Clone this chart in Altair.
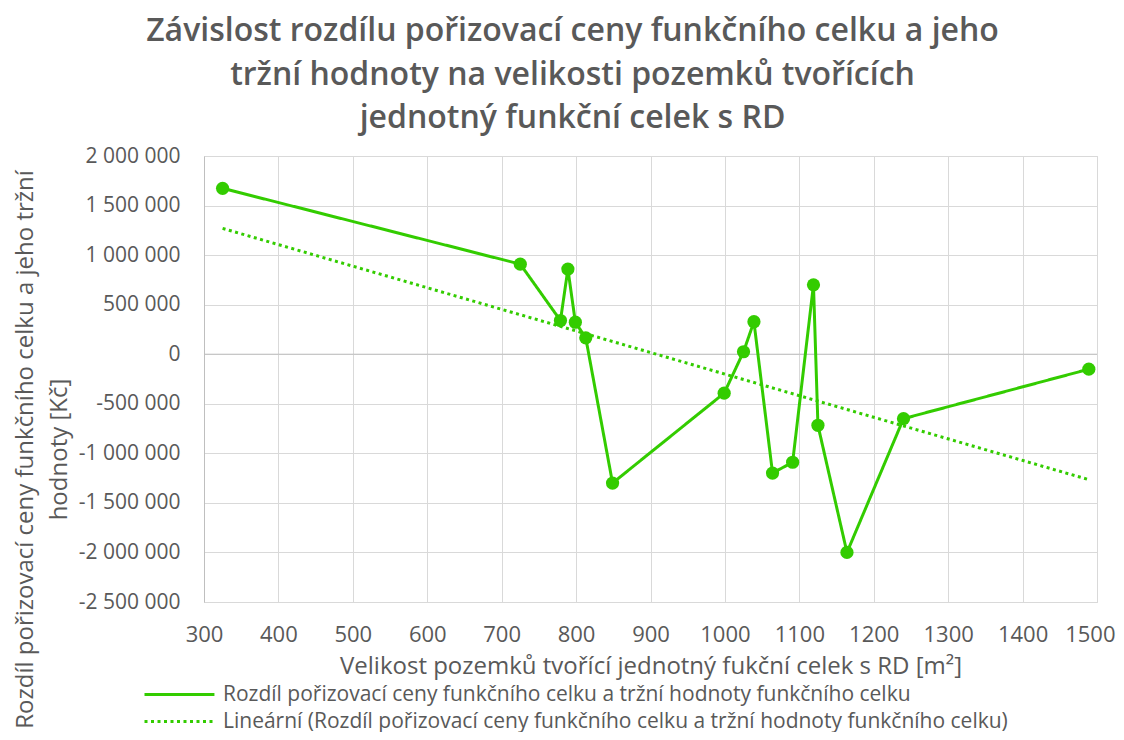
import altair as alt
import pandas as pd

# ---- data ----
area_m2 = [325, 725, 779, 789, 799, 813, 849, 999, 1025, 1039, 1064, 1091, 1119, 1125, 1164, 1240, 1489]
diff_czk = [1674000, 909000, 340000, 859000, 323000, 165000, -1300000, -393000, 25000, 328000,
            -1199000, -1090000, 700000, -717000, -2000000, -650000, -151000]

x_ticks = [300, 400, 500, 600, 700, 800, 900, 1000, 1100, 1200, 1300, 1400, 1500]
y_ticks = [2000000, 1500000, 1000000, 500000, 0, -500000, -1000000, -1500000, -2000000, -2500000]

series_data = "Rozdíl pořizovací ceny funkčního celku a tržní hodnoty funkčního celku"
series_trend = "Lineární (Rozdíl pořizovací ceny funkčního celku a tržní hodnoty funkčního celku)"

title_lines = ["Závislost rozdílu pořizovací ceny funkčního celku a jeho",
               "tržní hodnoty na velikosti pozemků tvořících",
               "jednotný funkční celek s RD"]
x_title = "Velikost pozemků tvořící jednotný fukční celek s RD [m²]"
y_title = ["Rozdíl pořizovací ceny funkčního celku a jeho tržní", "hodnoty [Kč]"]

GREEN = "#33cc00"
TEXT = "#595959"
FONT = "Open Sans"

df = pd.DataFrame({"x": area_m2, "y": diff_czk})

last_x = x_ticks[-1]
x_enc = alt.X("x:Q",
              scale=alt.Scale(domain=[300, 1500], nice=False, zero=False),
              axis=alt.Axis(values=x_ticks, title=x_title, format="d", grid=True, ticks=False, domain=False,
                            labelFontSize=22, labelPadding=22, titlePadding=9, labelFlush=False,
                            labelAlign={"condition": {"test": f"datum.value == {last_x}", "value": "right"},
                                        "value": "center"},
                            labelOffset={"condition": {"test": f"datum.value == {last_x}", "value": 18},
                                         "value": 0}))
y_enc = alt.Y("y:Q",
              scale=alt.Scale(domain=[-2500000, 2000000], nice=False, zero=False),
              axis=alt.Axis(values=y_ticks, title=y_title, grid=True, ticks=False, domain=True,
                            domainColor="#bfbfbf",
                            labelExpr="replace(replace(format(datum.value, ','), regexp(',', 'g'), ' '), regexp('\u2212', 'g'), '-')",
                            labelFontSize=21, labelPadding=24,
                            titleAngle=270, titleAlign="center", titleBaseline="top",
                            titleX=-191, titleY=293, titleLineHeight=34))

color_scale = alt.Scale(domain=[series_data, series_trend], range=[GREEN, GREEN])
dash_scale = alt.Scale(domain=[series_data, series_trend], range=[[1, 0], [3, 3.5]])
# custom stroke symbol: a horizontal line ~70 px long, starting at the symbol box's left edge
legend = alt.Legend(title=None, orient="none", legendX=-61, legendY=524, direction="vertical",
                    symbolType="M-1,0L4.38,0", symbolSize=676, symbolStrokeWidth=3,
                    labelFontSize=21, labelColor=TEXT, labelFont=FONT, labelLimit=1000,
                    rowPadding=2, labelOffset=51)

base = alt.Chart(df)

zero_rule = alt.Chart(pd.DataFrame({"z": [0]})).mark_rule(color="#bfbfbf", strokeWidth=1).encode(y="z:Q")

data_line = base.transform_calculate(series=f"'{series_data}'").mark_line(
    strokeWidth=3,
    point=alt.OverlayMarkDef(filled=True, size=175, color=GREEN, opacity=1),
).encode(
    x=x_enc, y=y_enc,
    color=alt.Color("series:N", scale=color_scale, legend=legend),
    strokeDash=alt.StrokeDash("series:N", scale=dash_scale, legend=legend),
)

trend_line = base.transform_regression("x", "y", method="linear", extent=[325, 1489]).transform_calculate(
    series=f"'{series_trend}'").mark_line(strokeWidth=3).encode(
    x="x:Q", y="y:Q",
    color=alt.Color("series:N", scale=color_scale, legend=legend),
    strokeDash=alt.StrokeDash("series:N", scale=dash_scale, legend=legend),
)

chart = alt.layer(zero_rule, trend_line, data_line).properties(
    width=893, height=446,
    autosize=alt.AutoSizeParams(type="none"),
    padding={"left": 196, "top": 148, "right": 19, "bottom": 130},
    title=alt.Title(title_lines, anchor="middle", frame="group", dx=-78, offset=10,
                    fontSize=32, fontWeight=600, color=TEXT, font=FONT, lineHeight=43.5),
).configure_view(stroke="#d9d9d9", strokeWidth=1).configure_axis(
    gridColor="#d9d9d9", gridWidth=1,
    labelFont=FONT, labelColor=TEXT,
    titleFont=FONT, titleFontSize=24, titleColor=TEXT, titleFontWeight="normal",
)

chart.save("out.html", embed_options={"renderer": "svg", "actions": False})
